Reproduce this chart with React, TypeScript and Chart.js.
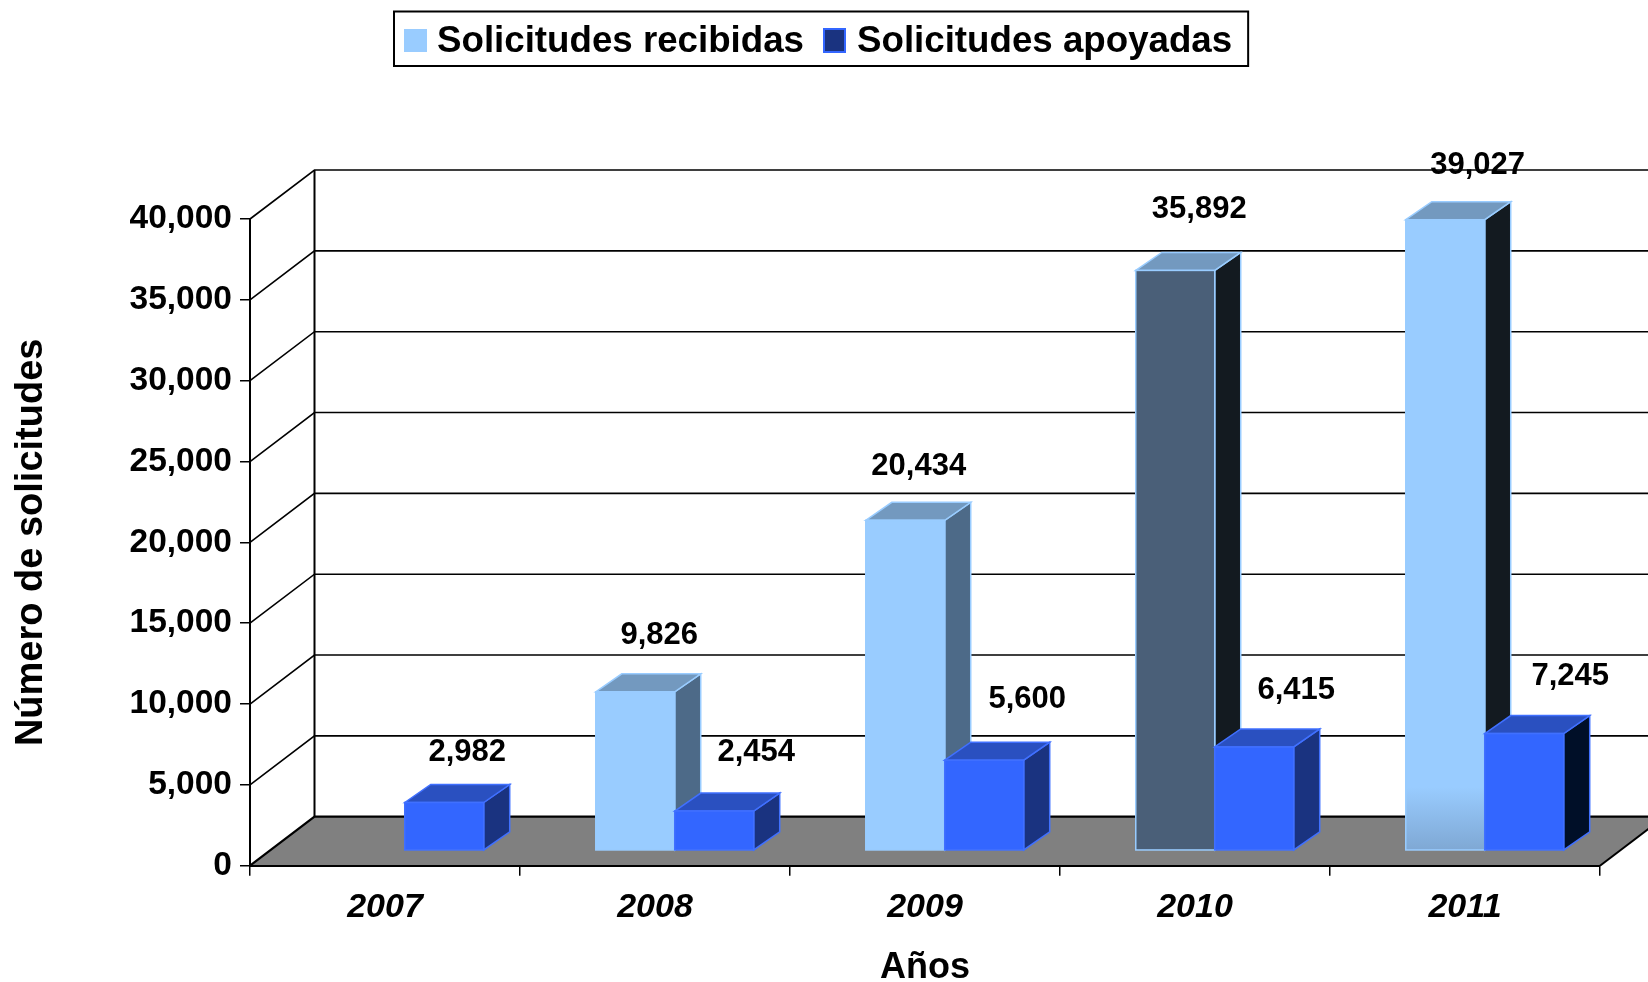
import React, { useEffect, useRef } from 'react';
import { Chart, registerables } from 'chart.js';

Chart.register(...registerables);

// ---------- data ----------
const years = ['2007', '2008', '2009', '2010', '2011'];
const recibidas: (number | null)[] = [null, 9826, 20434, 35892, 39027];
const apoyadas: number[] = [2982, 2454, 5600, 6415, 7245];
const seriesLabels = ['Solicitudes recibidas', 'Solicitudes apoyadas'];
const yMin = 0;
const yMax = 40000;
const yStep = 5000;
const yTitle = 'Número de solicitudes';
const xTitle = 'Años';

// ---------- styles ----------
const FONT = '"Liberation Sans", Arial, Helvetica, sans-serif';
const DEPTH = { dx: 64.5, dy: -49 }; // back wall offset
const BAR_POS = 0.306; // fraction of depth where bars stand
const BAR_DEPTH = { dx: 26, dy: -18 };
const LABEL_DY = -57;
const LABEL_DX = [24, 42];
// small per-label nudges (label placement style of the original)
const labelNudgeX = [
  [0, 0, -10.5, 0, 8.4],
  [-19, 0, 1, 0, 4],
];
const labelNudgeY = [
  [0, 1, 3, -4, 3],
  [7.4, -2, -4, 0, 0],
];

const recFront = ['#99CCFF', '#99CCFF', '#99CCFF', '#4A5F78', '#99CCFF'];
const recSide = ['#4D6A88', '#4D6A88', '#4D6A88', '#131A20', '#131A20'];
const recTop = '#7399BF';
const recEdge = '#99CCFF';
const apoFront = '#3366FF';
const apoTop = '#2A50C0';
const apoSide = ['#1A3380', '#1A3380', '#1A3380', '#1A3380', '#000F28'];
const apoEdge = '#4070FF';
const legendColors = ['#99CCFF', '#1A3380'];
const legendEdges = ['#99CCFF', '#3366FF'];

const fmt = (v: number) => v.toLocaleString('en-US');

const threeD = {
  id: 'threeD',
  beforeDraw(chart: any) {
    const { ctx, chartArea: a, scales } = chart;
    const y = scales.y;
    const { dx, dy } = DEPTH;
    const y0 = y.getPixelForValue(yMin);
    const yTop = y.getPixelForValue(yMax);
    ctx.save();
    ctx.fillStyle = '#808080';
    ctx.beginPath();
    ctx.moveTo(a.left, y0);
    ctx.lineTo(a.right, y0);
    ctx.lineTo(a.right + dx, y0 + dy);
    ctx.lineTo(a.left + dx, y0 + dy);
    ctx.closePath();
    ctx.fill();
    ctx.strokeStyle = '#000';
    y.ticks.forEach((t: any) => {
      const py = y.getPixelForValue(t.value);
      ctx.lineWidth = t.value === yMin ? 2.2 : 1.6;
      ctx.beginPath();
      ctx.moveTo(a.left, py);
      ctx.lineTo(a.left + dx, py + dy);
      ctx.lineTo(a.right + dx + 50, py + dy);
      ctx.stroke();
    });
    ctx.lineWidth = 2;
    ctx.beginPath();
    ctx.moveTo(a.left + dx, yTop + dy);
    ctx.lineTo(a.left + dx, y0 + dy);
    ctx.stroke();
    ctx.beginPath();
    ctx.moveTo(a.right, y0);
    ctx.lineTo(a.right + dx, y0 + dy);
    ctx.stroke();
    ctx.restore();
  },
  afterDatasetsDraw(chart: any) {
    const { ctx } = chart;
    const sx = DEPTH.dx * BAR_POS;
    const sy = DEPTH.dy * BAR_POS;
    const bdx = BAR_DEPTH.dx;
    const bdy = BAR_DEPTH.dy;
    const labels: { text: string; x: number; y: number }[] = [];
    ctx.save();
    for (let i = 0; i < years.length; i++) {
      for (let d = 0; d < 2; d++) {
        const v = chart.data.datasets[d].data[i];
        if (v == null) continue;
        const el = chart.getDatasetMeta(d).data[i];
        const p = el.getProps(['x', 'y', 'base', 'width'], true);
        const l = p.x - p.width / 2 + sx;
        const r = p.x + p.width / 2 + sx;
        const t = p.y + sy;
        const b = p.base + sy;
        const front = d === 0 ? recFront[i] : apoFront;
        const side = d === 0 ? recSide[i] : apoSide[i];
        const top = d === 0 ? recTop : apoTop;
        const edge = d === 0 ? recEdge : apoEdge;
        ctx.fillStyle = side;
        ctx.beginPath();
        ctx.moveTo(r, t);
        ctx.lineTo(r + bdx, t + bdy);
        ctx.lineTo(r + bdx, b + bdy);
        ctx.lineTo(r, b);
        ctx.closePath();
        ctx.fill();
        ctx.strokeStyle = edge;
        ctx.lineWidth = 1.5;
        ctx.stroke();
        ctx.fillStyle = top;
        ctx.beginPath();
        ctx.moveTo(l, t);
        ctx.lineTo(l + bdx, t + bdy);
        ctx.lineTo(r + bdx, t + bdy);
        ctx.lineTo(r, t);
        ctx.closePath();
        ctx.fill();
        ctx.stroke();
        if (d === 0 && i === years.length - 1) {
          const g = ctx.createLinearGradient(0, t, 0, b);
          g.addColorStop(0, front);
          g.addColorStop(0.9, front);
          g.addColorStop(1, '#7FA8D4');
          ctx.fillStyle = g;
        } else {
          ctx.fillStyle = front;
        }
        ctx.fillRect(l, t, r - l, b - t);
        ctx.strokeRect(l, t, r - l, b - t);
        labels.push({
          text: fmt(v),
          x: (l + r) / 2 + LABEL_DX[d] + labelNudgeX[d][i],
          y: t + LABEL_DY + labelNudgeY[d][i],
        });
      }
    }
    ctx.fillStyle = '#000';
    ctx.font = `bold 31px ${FONT}`;
    ctx.textAlign = 'center';
    ctx.textBaseline = 'middle';
    labels.forEach((lb) => ctx.fillText(lb.text, lb.x, lb.y));
    ctx.restore();
  },
  afterDraw(chart: any) {
    const { ctx } = chart;
    ctx.save();
    ctx.font = `bold 36.7px ${FONT}`;
    const names = chart.data.datasets.map((ds: any) => ds.label);
    const boxLeft = 394;
    const boxTop = 11.5;
    const boxH = 54.5;
    const marker = 23;
    let x = boxLeft + 10;
    names.forEach((n: string, k: number) => {
      ctx.fillStyle = legendColors[k];
      ctx.fillRect(x, 29, marker - (k === 1 ? 2 : 0), marker);
      if (k === 1) {
        ctx.strokeStyle = legendEdges[k];
        ctx.lineWidth = 2;
        ctx.strokeRect(x, 29, marker - 2, marker);
      }
      x += marker + 10;
      ctx.fillStyle = '#000';
      ctx.textAlign = 'left';
      ctx.textBaseline = 'alphabetic';
      ctx.fillText(n, x, 52.3);
      x += ctx.measureText(n).width + 20;
    });
    const boxRight = x - 20 + 16;
    ctx.strokeStyle = '#000';
    ctx.lineWidth = 2;
    ctx.strokeRect(boxLeft, boxTop, boxRight - boxLeft, boxH);
    ctx.restore();
  },
};

export default function App() {
  const ref = useRef<HTMLCanvasElement | null>(null);
  useEffect(() => {
    if (!ref.current) return;
    const chart = new Chart(ref.current, {
      type: 'bar',
      data: {
        labels: years,
        datasets: [
          { label: seriesLabels[0], data: recibidas, backgroundColor: 'rgba(0,0,0,0)', borderWidth: 0 },
          { label: seriesLabels[1], data: apoyadas, backgroundColor: 'rgba(0,0,0,0)', borderWidth: 0 },
        ],
      },
      options: {
        responsive: false,
        animation: false,
        devicePixelRatio: 1,
        layout: { padding: { top: 219, right: 48, left: 0, bottom: 0 } },
        datasets: { bar: { categoryPercentage: 0.585, barPercentage: 1 } },
        plugins: { legend: { display: false }, tooltip: { enabled: false } },
        scales: {
          x: {
            grid: { drawOnChartArea: false, tickLength: 10, color: '#000', lineWidth: 1.5, offset: true },
            border: { color: '#000', width: 2 },
            ticks: {
              color: '#000',
              padding: 12,
              font: { family: FONT, size: 34, weight: 'bold', style: 'italic' },
            },
            title: {
              display: true,
              text: xTitle,
              color: '#000',
              padding: { top: 0, bottom: -4 },
              font: { family: FONT, size: 36, weight: 'bold', lineHeight: 1 },
            },
            afterFit: (s: any) => {
              s.height = 116.3;
            },
          },
          y: {
            min: yMin,
            max: yMax,
            grid: { drawOnChartArea: false, tickLength: 10, color: '#000', lineWidth: 1.5 },
            border: { color: '#000', width: 2 },
            ticks: {
              stepSize: yStep,
              color: '#000',
              padding: 8,
              font: { family: FONT, size: 33.5, weight: 'bold' },
              callback: (v: any) => fmt(Number(v)),
            },
            title: {
              display: true,
              text: yTitle,
              color: '#000',
              padding: { top: 9, bottom: 0 },
              font: { family: FONT, size: 38, weight: 'bold' },
            },
            afterFit: (s: any) => {
              s.width = 250;
            },
          },
        },
      } as any,
      plugins: [threeD],
    });
    return () => chart.destroy();
  }, []);
  return (
    <div style={{ position: 'fixed', left: 0, top: 0, width: 1648, height: 982, background: '#fff' }}>
      <canvas ref={ref} width={1648} height={982} style={{ display: 'block', width: 1648, height: 982 }} />
    </div>
  );
}
